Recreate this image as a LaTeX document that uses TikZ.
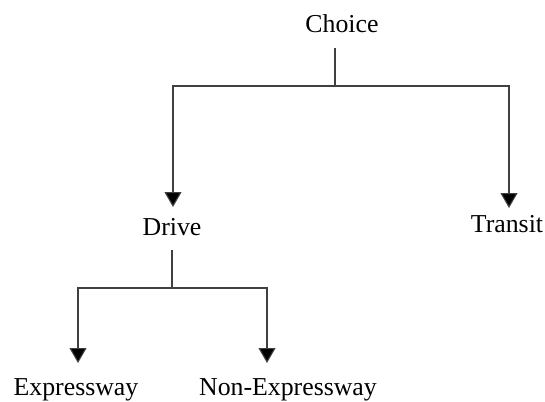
\documentclass[tikz,border=0pt]{standalone}
\usepackage{fontspec}
\setmainfont{Liberation Serif}
\usetikzlibrary{arrows.meta}
\begin{document}
\begin{tikzpicture}[x=0.5pt,y=-0.5pt,
  lbl/.style={anchor=base,inner sep=0pt,font=\fontsize{12.9pt}{15pt}\selectfont},
  conn/.style={line width=0.55pt,draw=black!75},
  arr/.style={conn,-{Triangle[width=8.5pt,length=7.5pt,fill=black]}}]
\useasboundingbox (0,0) rectangle (545,401);
\node[lbl] (choice) at (342,33) {Choice};
\node[lbl] (drive) at (172,235) {Drive};
\node[lbl] (transit) at (507,232) {Transit};
\node[lbl] (expr) at (76,395) {Expressway};
\node[lbl] (nonexpr) at (288,395) {Non-Expressway};
\coordinate (cs) at (335,48);
\coordinate (cj) at (335,86);
\coordinate (dt) at (173,207);
\coordinate (tt) at (509,208);
\coordinate (ds) at (172,250);
\coordinate (dj) at (172,288);
\coordinate (et) at (78,363);
\coordinate (nt) at (267,363);
\draw[conn] (cs) -- (cj);
\draw[arr] (cj) -| (dt);
\draw[arr] (cj) -| (tt);
\draw[conn] (ds) -- (dj);
\draw[arr] (dj) -| (et);
\draw[arr] (dj) -| (nt);
\end{tikzpicture}
\end{document}
